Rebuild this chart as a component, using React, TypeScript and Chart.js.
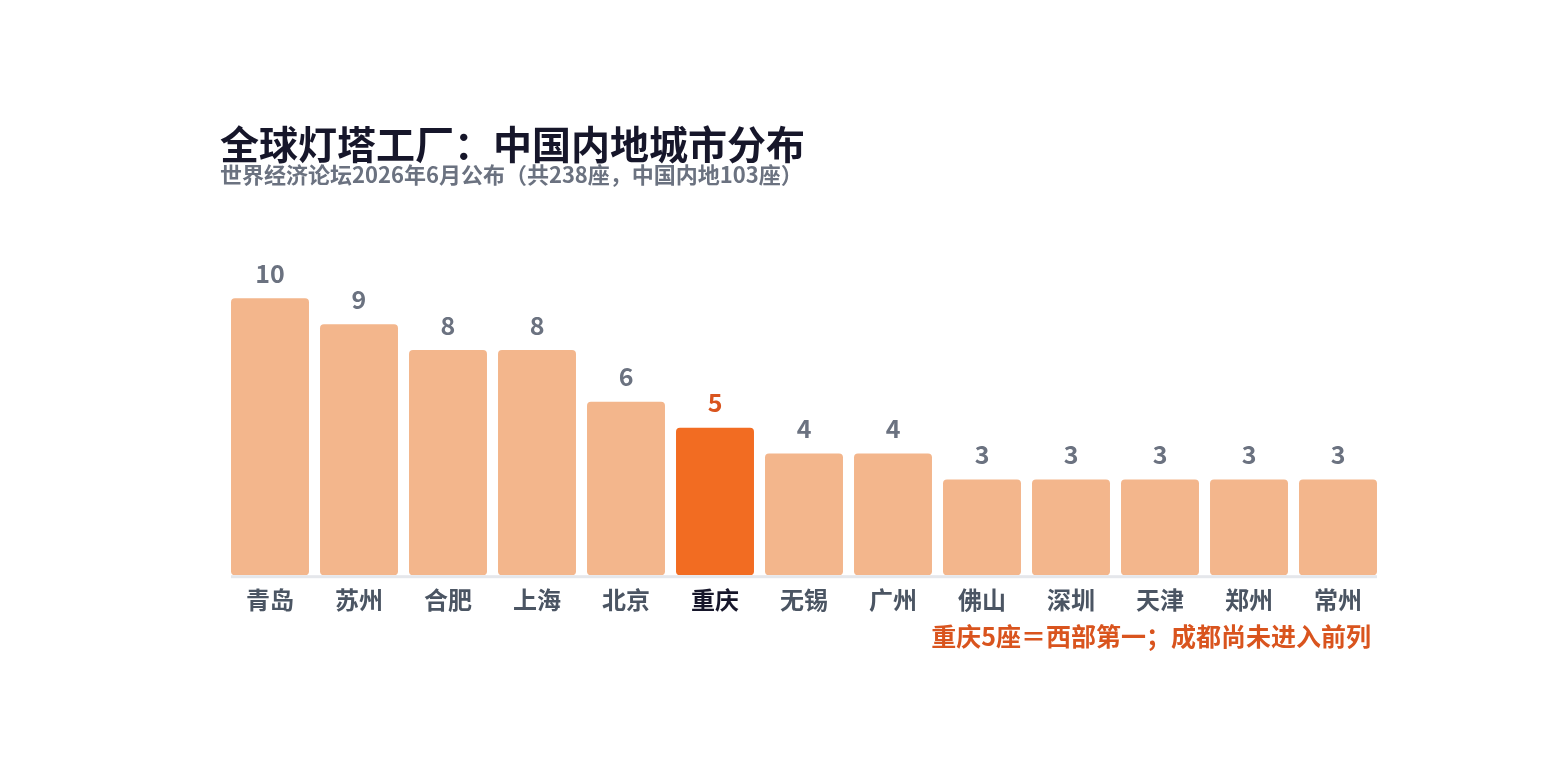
import { useEffect, useRef } from "react";
import { Chart, registerables, Plugin } from "chart.js";

Chart.register(...registerables);

const cities = ["青岛", "苏州", "合肥", "上海", "北京", "重庆", "无锡", "广州", "佛山", "深圳", "天津", "郑州", "常州"];
const factoryCounts = [10, 9, 8, 8, 6, 5, 4, 4, 3, 3, 3, 3, 3];
const highlightCity = "重庆";

const titleText = "全球灯塔工厂：中国内地城市分布";
const subtitleText = "世界经济论坛2026年6月公布（共238座，中国内地103座）";
const noteText = "重庆5座＝西部第一；成都尚未进入前列";

const FONT = '"Noto Sans CJK SC", "Noto Sans", sans-serif';
const BAR_LIGHT = "#f3b68c";
const BAR_HIGHLIGHT = "#f26c22";
const ACCENT_TEXT = "#d9541e";
const GRAY_TEXT = "#6b7280";
const AXIS_TEXT = "#4b5563";
const DARK_TEXT = "#16162a";
const BAR_BASE = -0.7;

// titles, value labels, baseline and note drawn on the canvas
const decorPlugin: Plugin<"bar"> = {
  id: "decor",
  afterDatasetsDraw(chart) {
    const ctx = chart.ctx;
    const meta = chart.getDatasetMeta(0);
    const bars = meta.data as any[];
    ctx.save();

    // baseline under the bars
    if (bars.length) {
      const first = bars[0];
      const last = bars[bars.length - 1];
      ctx.fillStyle = "#e5e7eb";
      ctx.fillRect(first.x - first.width / 2, chart.chartArea.bottom, last.x + last.width / 2 - (first.x - first.width / 2), 3);
    }

    // value labels
    ctx.font = `bold 25px ${FONT}`;
    ctx.textAlign = "center";
    ctx.textBaseline = "middle";
    bars.forEach((bar, i) => {
      ctx.fillStyle = cities[i] === highlightCity ? ACCENT_TEXT : GRAY_TEXT;
      ctx.fillText(String(factoryCounts[i]), bar.x, bar.y - 25);
    });

    // title + subtitle
    ctx.textAlign = "left";
    ctx.fillStyle = DARK_TEXT;
    ctx.font = `bold 39px ${FONT}`;
    ctx.fillText(titleText, 220, 144);
    ctx.fillStyle = GRAY_TEXT;
    ctx.font = `bold 22px ${FONT}`;
    ctx.fillText(subtitleText, 220, 175);

    // note
    ctx.textAlign = "right";
    ctx.fillStyle = ACCENT_TEXT;
    ctx.font = `bold 25px ${FONT}`;
    ctx.fillText(noteText, 1371, 636);

    ctx.restore();
  },
};

const App = () => {
  const canvasRef = useRef<HTMLCanvasElement>(null);
  const chartRef = useRef<Chart<"bar"> | null>(null);

  useEffect(() => {
    const ctx = canvasRef.current?.getContext("2d");
    if (!ctx) return;

    chartRef.current = new Chart(ctx, {
      type: "bar",
      data: {
        labels: cities,
        datasets: [
          {
            data: factoryCounts,
            base: BAR_BASE,
            backgroundColor: cities.map((c) => (c === highlightCity ? BAR_HIGHLIGHT : BAR_LIGHT)),
            borderRadius: 4,
            borderSkipped: false,
            categoryPercentage: 1,
            barPercentage: 0.876,
          },
        ],
      },
      options: {
        responsive: true,
        maintainAspectRatio: false,
        animation: false,
        layout: {
          padding: { top: 259.5, left: 225.5, right: 181.5, bottom: 158 },
        },
        plugins: {
          legend: { display: false },
          tooltip: { enabled: false },
          title: { display: false },
        },
        scales: {
          y: {
            display: false,
            min: BAR_BASE,
            max: 11.5,
          },
          x: {
            grid: { display: false, drawTicks: false },
            border: { display: false },
            ticks: {
              padding: 10,
              font: { family: FONT, size: 24, weight: "bold" },
              color: (c: any) => (cities[c.index] === highlightCity ? DARK_TEXT : AXIS_TEXT),
            },
          },
        },
      },
      plugins: [decorPlugin],
    });

    return () => {
      chartRef.current?.destroy();
      chartRef.current = null;
    };
  }, []);

  return (
    <div style={{ position: "fixed", left: 0, top: 0, width: 1564, height: 782, background: "#fff" }}>
      <canvas ref={canvasRef} />
    </div>
  );
};

export default App;
